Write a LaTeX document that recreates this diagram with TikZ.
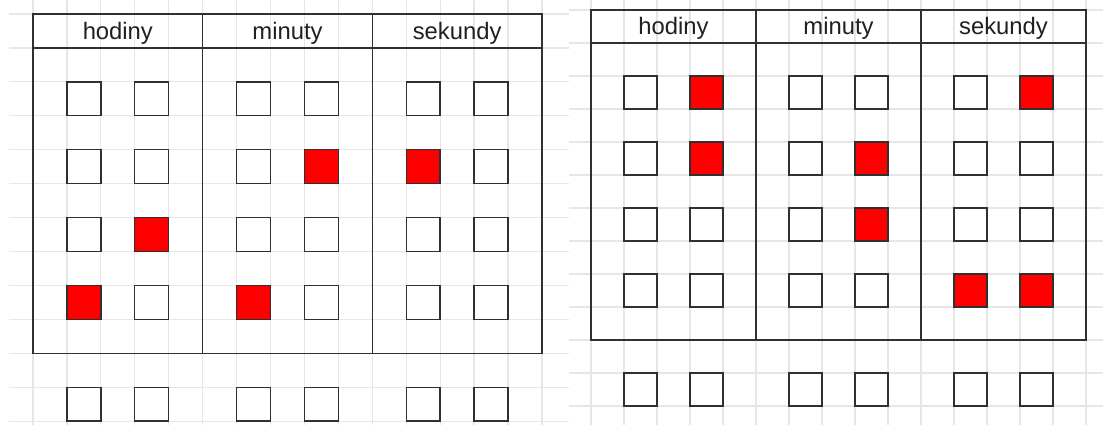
\documentclass[tikz,border=0pt]{standalone}
\usepackage{fontspec}
\setmainfont{Liberation Sans}
\definecolor{gridc}{HTML}{E6E6E6}
\definecolor{ink}{HTML}{303030}
\definecolor{txt}{HTML}{202020}
\definecolor{lamp}{HTML}{FF0000}
\begin{document}
\begin{tikzpicture}[x=1pt,y=-1pt,
  gridline/.style={draw=gridc,line width=1.2pt},
  frame/.style={draw=ink,line width=1.5pt},
  cell/.style={draw=ink,line width=1.4pt,fill=white},
  lit/.style={draw=ink,line width=1.4pt,fill=lamp},
  head/.style={font=\fontsize{23.8}{24}\selectfont,text=txt,inner sep=0pt,anchor=base}]
\useasboundingbox (0,0) rectangle (1103,425);
\fill[white] (0,0) rectangle (1103,425);
% ---------- left screenshot grid
\foreach \k in {0,...,15} \draw[gridline] ({33+33.93*\k},0) -- ({33+33.93*\k},425);
\foreach \k in {0,...,12} \draw[gridline] (9,{14+33.93*\k}) -- (569,{14+33.93*\k});
% ---------- right screenshot grid
\foreach \k in {0,...,15} \draw[gridline] ({591+33*\k},0) -- ({591+33*\k},425);
\foreach \k in {0,...,12} \draw[gridline] (569,{10+33*\k}) -- (1103,{10+33*\k});
% ---------- left panel
\begin{scope}[shift={(33,14)},x=33.93pt,y=-33.93pt]
  \draw[frame] (0,0) rectangle (15,10);
  \draw[frame] (0,1) -- (15,1) (5,0) -- (5,10) (10,0) -- (10,10);
  \node[head] (lh) at (2.5,0.737) {hodiny};
  \node[head] (lm) at (7.5,0.737) {minuty};
  \node[head] (ls) at (12.5,0.737) {sekundy};
  \foreach \c in {0,1,2} \foreach \j in {1,3} \foreach \r in {2,4,6,8,11}
    \draw[cell] ({5*\c+\j},\r) rectangle +(1,1);
  \foreach \c/\j/\r in {0/3/6,0/1/8,1/3/4,1/1/8,2/1/4}
    \draw[lit] ({5*\c+\j},\r) rectangle +(1,1);
\end{scope}
% ---------- right panel
\begin{scope}[shift={(591,10)},x=33pt,y=-33pt]
  \draw[frame] (0,0) rectangle (15,10);
  \draw[frame] (0,1) -- (15,1) (5,0) -- (5,10) (10,0) -- (10,10);
  \node[head] (rh) at (2.5,0.757) {hodiny};
  \node[head] (rm) at (7.5,0.757) {minuty};
  \node[head] (rs) at (12.5,0.757) {sekundy};
  \foreach \c in {0,1,2} \foreach \j in {1,3} \foreach \r in {2,4,6,8,11}
    \draw[cell] ({5*\c+\j},\r) rectangle +(1,1);
  \foreach \c/\j/\r in {0/3/2,0/3/4,1/3/4,1/3/6,2/3/2,2/1/8,2/3/8}
    \draw[lit] ({5*\c+\j},\r) rectangle +(1,1);
\end{scope}
\end{tikzpicture}
\end{document}
